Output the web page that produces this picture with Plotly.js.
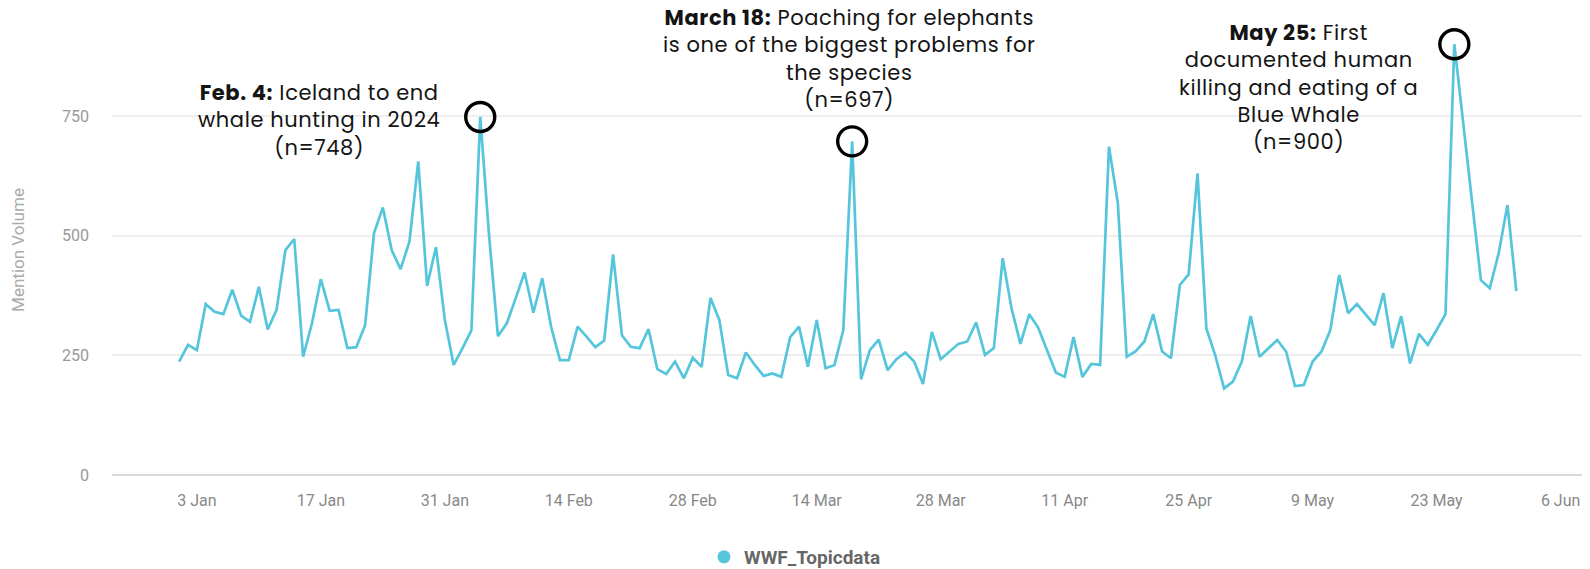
<!DOCTYPE html>
<html>
<head>
<meta charset="utf-8">
<script src="https://cdn.plot.ly/plotly-3.0.1.min.js"></script>
<style>
  html, body { margin: 0; padding: 0; background: #ffffff; }
  #chart { width: 1590px; height: 569px; }
  .annotation-text { letter-spacing: 0.6px; }
</style>
</head>
<body>
<div id="chart"></div>
<script>
// ---- Data (daily mention volume) ----
const seriesName = 'WWF_Topicdata';
const startDate = '2023-01-01';
const janValues = [237, 272, 261, 357, 341, 336, 387, 333, 320, 393, 304, 345, 470, 493, 247, 317, 409, 343, 345, 265, 267, 313, 505, 559, 470, 430, 487, 655, 395, 476, 324];
const febValues = [230, 265, 302, 748, 500, 290, 317, 369, 423, 339, 411, 310, 240, 240, 310, 289, 267, 281, 461, 292, 268, 265, 305, 221, 211, 237, 202, 245];
const marValues = [226, 370, 324, 209, 202, 256, 230, 207, 212, 205, 288, 310, 226, 324, 223, 230, 303, 697, 200, 261, 283, 219, 242, 256, 237, 190, 299, 242, 258, 274, 279];
const aprValues = [319, 251, 265, 453, 348, 274, 336, 308, 261, 214, 205, 288, 205, 232, 230, 686, 568, 247, 258, 279, 336, 258, 244, 397, 419, 630, 306, 250, 181, 195];
const mayValues = [237, 332, 247, 265, 282, 258, 186, 188, 237, 258, 303, 418, 338, 357, 334, 313, 380, 265, 332, 233, 295, 272, 303, 336, 900, 736, 571, 407, 390, 463, 564];
const junValues = [384];

// Highlighted events
const eventDates = ['2023-02-04', '2023-03-18', '2023-05-25'];
const eventValues = [748, 697, 900];
const eventTexts = [
  '<b>Feb. 4:</b> Iceland to end<br>whale hunting in 2024<br>(n=748)',
  '<b>March 18:</b> Poaching for elephants<br>is one of the biggest problems for<br>the species<br>(n=697)',
  '<b>May 25:</b> First<br>documented human<br>killing and eating of a<br>Blue Whale<br>(n=900)'
];

// Axis ticks
const xTickVals = ['2023-01-03', '2023-01-17', '2023-01-31', '2023-02-14', '2023-02-28', '2023-03-14', '2023-03-28', '2023-04-11', '2023-04-25', '2023-05-09', '2023-05-23', '2023-06-06'];
const xTickText = ['3 Jan', '17 Jan', '31 Jan', '14 Feb', '28 Feb', '14 Mar', '28 Mar', '11 Apr', '25 Apr', '9 May', '23 May', '6 Jun'];
const yTickVals = [0, 250, 500, 750];
const yTickText = ['0', '250', '500', '750'];

// ---- Build the daily date list ----
const values = [].concat(janValues, febValues, marValues, aprValues, mayValues, junValues);
const dates = [];
const d0 = new Date(startDate + 'T00:00:00Z');
for (let i = 0; i < values.length; i++) {
  const d = new Date(d0.getTime() + i * 86400000);
  dates.push(d.toISOString().slice(0, 10));
}

// ---- Layout geometry ----
const W = 1590, H = 569;
const mL = 112, mR = 8, mT = 25, mB = 94;
const plotW = W - mL - mR, plotH = H - mT - mB;
function px2paperX(px) { return (px - mL) / plotW; }
function px2paperY(py) { return (H - mB - py) / plotH; }

const lineColor = '#55c5dc';
const annFont = { family: 'Poppins, "Open Sans", sans-serif', size: 21, color: '#141414' };
const annPos = [
  { x: 319, y: 76 },
  { x: 849, y: 1 },
  { x: 1298, y: 16 }
];

const traces = [
  {
    type: 'scatter', mode: 'lines', x: dates, y: values, name: seriesName,
    line: { color: lineColor, width: 2.7 }, showlegend: false, hoverinfo: 'skip'
  },
  {
    type: 'scatter', mode: 'markers', x: eventDates, y: eventValues,
    marker: { symbol: 'circle-open', size: 29, color: '#000000', line: { width: 3.4, color: '#000000' } },
    showlegend: false, hoverinfo: 'skip', cliponaxis: false
  },
  {
    type: 'scatter', mode: 'markers', x: [null], y: [null], name: seriesName,
    marker: { color: lineColor, size: 13 }, showlegend: true
  }
];

const annotations = eventTexts.map((t, i) => ({
  text: t, xref: 'paper', yref: 'paper',
  x: px2paperX(annPos[i].x), y: px2paperY(annPos[i].y),
  xanchor: 'center', yanchor: 'top', align: 'center',
  showarrow: false, font: annFont
}));

const layout = {
  width: W, height: H,
  margin: { l: mL, r: mR, t: mT, b: mB, pad: 0, autoexpand: false },
  paper_bgcolor: '#ffffff', plot_bgcolor: '#ffffff',
  font: { family: 'Roboto, sans-serif' },
  showlegend: true,
  legend: {
    orientation: 'h', x: px2paperX(795), xanchor: 'center',
    y: px2paperY(557), yanchor: 'middle',
    font: { family: 'Roboto, sans-serif', size: 19, color: '#666666', weight: 700 }
  },
  xaxis: {
    type: 'date',
    range: ['2022-12-24 10:00', '2023-06-08 10:00'],
    tickvals: xTickVals, ticktext: xTickText,
    showgrid: false, zeroline: false, showline: false,
    ticks: '', ticklabelstandoff: 14,
    tickfont: { family: 'Roboto, sans-serif', size: 16, color: '#888888' },
    automargin: false, fixedrange: true
  },
  yaxis: {
    range: [0, plotH / (359 / 750)],
    tickvals: yTickVals, ticktext: yTickText,
    showgrid: true, gridcolor: '#eeeeee', gridwidth: 2,
    zeroline: true, zerolinecolor: '#d9d9d9', zerolinewidth: 2,
    showline: false, ticks: '', ticklabelstandoff: 22,
    tickfont: { family: 'Roboto, sans-serif', size: 16, color: '#999999' },
    title: { text: 'Mention Volume', standoff: 33, font: { family: 'Roboto, sans-serif', size: 17, color: '#aaaaaa' } },
    automargin: false, fixedrange: true
  },
  annotations: annotations,
  hovermode: false
};

Plotly.newPlot('chart', traces, layout, { displayModeBar: false, staticPlot: true });
</script>
</body>
</html>
